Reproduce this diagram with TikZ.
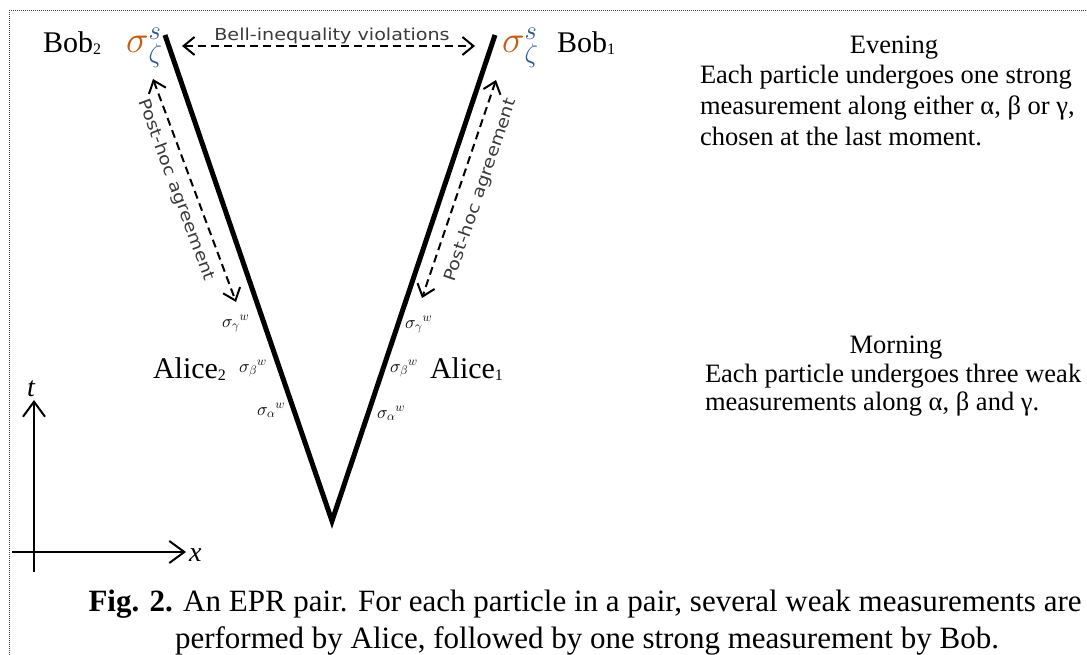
\RequirePackage{fix-cm}
\documentclass[tikz,border=0pt]{standalone}
\usepackage{fontspec}
\setmainfont{Liberation Serif}
\newfontfamily\grsans{DejaVu Sans}
\usetikzlibrary{arrows.meta}
\definecolor{sorange}{HTML}{C55A11}
\definecolor{sblue}{HTML}{2E5597}
\definecolor{lblgray}{HTML}{3A3A3A}
\newcommand{\fs}[1]{\fontsize{#1}{#1}\selectfont}
\newcommand{\strongsig}{$\textcolor{sorange}{\sigma}^{\textcolor{sblue}{s}}_{\textcolor{sblue}{\zeta}}$}
\begin{document}
\begin{tikzpicture}[x=1pt,y=-1pt,
  every node/.style={inner sep=0pt, outer sep=0pt},
  worldline/.style={line width=5pt, line join=miter, line cap=butt},
  dasharrow/.style={line width=2pt, dash pattern=on 8pt off 5pt, {Straight Barb[length=11pt,width=18pt,line width=2pt]}-{Straight Barb[length=11pt,width=18pt,line width=2pt]}},
  axisarrow/.style={line width=2pt, -{Straight Barb[length=15pt,width=22pt,line width=2pt]}},
  sanslbl/.style={text=lblgray, font=\grsans\fs{16.5}},
  person/.style={anchor=base west, font=\fs{30}},
  body/.style={anchor=base west, font=\fs{26.5}},
  heading/.style={anchor=base, font=\fs{26.5}},
  weak/.style={anchor=base west, font=\fs{18}},
  strong/.style={anchor=base west, font=\fs{38}},
  caption/.style={anchor=base, font=\fs{31}}]
\useasboundingbox (0,0) rectangle (1087,655);
% border
\draw[black!75, line width=1pt, dash pattern=on 1pt off 1pt] (9,655) -- (9,11) -- (1087,11);
% world lines
\coordinate (b2) at (165,35);
\coordinate (src) at (332,521);
\coordinate (b1) at (495,35);
\draw[worldline] (b2) -- (src) -- (b1);
% Bob labels
\node[person] (bob2) at (43,53) {Bob\raisebox{-2pt}{\fs{16}2}};
\node[person] (bob1) at (557,53) {Bob\raisebox{-2pt}{\fs{16}1}};
\node[strong] (s2) at (126,53) {\strongsig};
\node[strong] (s1) at (502,53) {\strongsig};
% Bell arrow
\coordinate (bellL) at (182,46);
\coordinate (bellR) at (475,46);
\draw[dasharrow] (bellL) -- (bellR);
\node[sanslbl, anchor=base] (bell) at (332,41) {\scalebox{1.16}[1]{Bell-inequality violations}};
% post-hoc arrows
\coordinate (phL1) at (153,79);
\coordinate (phL2) at (236,302);
\draw[dasharrow] (phL1) -- (phL2);
\node[sanslbl, rotate=-69.6] (phLlbl) at (176,190) {\scalebox{1.16}[1]{Post-hoc agreement}};
\coordinate (phR1) at (496,80);
\coordinate (phR2) at (422,298);
\draw[dasharrow] (phR1) -- (phR2);
\node[sanslbl, rotate=71.2] (phRlbl) at (481,190) {\scalebox{1.16}[1]{Post-hoc agreement}};
% weak measurements
\node[weak] (wg2) at (222,327) {$\sigma_{\gamma}{}^{w}$};
\node[weak] (wb2) at (239,372) {$\sigma_{\beta}{}^{w}$};
\node[weak] (wa2) at (257,415) {$\sigma_{\alpha}{}^{w}$};
\node[weak] (wg1) at (405,328) {$\sigma_{\gamma}{}^{w}$};
\node[weak] (wb1) at (390,372) {$\sigma_{\beta}{}^{w}$};
\node[weak] (wa1) at (377,418) {$\sigma_{\alpha}{}^{w}$};
\node[person] (al2) at (153,378) {Alice\raisebox{-2pt}{\fs{16}2}};
\node[person] (al1) at (430,378) {Alice\raisebox{-2pt}{\fs{16}1}};
% Evening text
\node[heading] (ev) at (894,54) {Evening};
\node[body] (ev1) at (700,84) {Each particle undergoes one strong};
\node[body] (ev2) at (700,115) {measurement along either α, β or γ,};
\node[body] (ev3) at (700,146) {chosen at the last moment.};
% Morning text
\node[heading] (mo) at (896,353) {Morning};
\node[body] (mo1) at (705,382) {Each particle undergoes three weak};
\node[body] (mo2) at (705,410) {measurements along α, β and γ.};
% axes
\coordinate (ty0) at (34,572);
\coordinate (ty1) at (34,400);
\coordinate (tx0) at (12,552);
\coordinate (tx1) at (186,552);
\draw[axisarrow] (ty0) -- (ty1);
\draw[axisarrow] (tx0) -- (tx1);
\node[font=\fs{28}\itshape, anchor=base west] (xl) at (189,561) {x};
\node[font=\fs{28}\itshape, anchor=base] (tl) at (31,396) {t};
% caption
\node[caption] (cap1) at (585,611) {\textbf{Fig. 2.} An EPR pair. For each particle in a pair, several weak measurements are};
\node[caption] (cap2) at (587,648) {performed by Alice, followed by one strong measurement by Bob.};
\end{tikzpicture}
\end{document}
